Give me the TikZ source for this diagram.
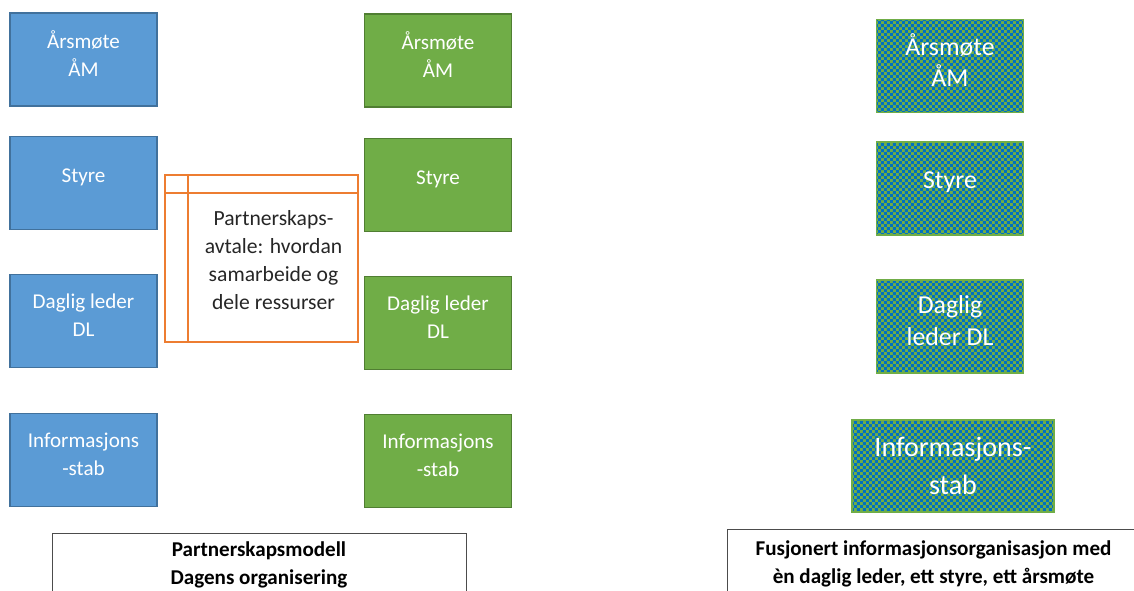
\documentclass[tikz,border=0pt]{standalone}
\usepackage{fontspec}
\setmainfont{Carlito}
\usetikzlibrary{positioning,patterns.meta}

\definecolor{boxblue}{HTML}{5B9BD5}
\definecolor{boxblueline}{HTML}{41719C}
\definecolor{boxgreen}{HTML}{70AD47}
\definecolor{boxgreenline}{HTML}{507E32}
\definecolor{checkblue}{HTML}{0070C0}
\definecolor{avtaleorange}{HTML}{ED7D31}
\definecolor{textdark}{HTML}{262626}

\tikzdeclarepattern{
  name=finecheck,
  type=uncolored,
  bounding box={(0pt,0pt) and (3.4pt,3.4pt)},
  tile size={(3.4pt,3.4pt)},
  code={
    \fill (0pt,0pt) rectangle (1.7pt,1.7pt);
    \fill (1.7pt,1.7pt) rectangle (3.4pt,3.4pt);
  }
}

\begin{document}
\begin{tikzpicture}[
    x=0.02cm, y=-0.02cm,
    orgbox/.style={rectangle, minimum width=2.94cm, minimum height=1.86cm, line width=0.8pt},
    bluebox/.style={orgbox, fill=boxblue, draw=boxblueline},
    greenbox/.style={orgbox, fill=boxgreen, draw=boxgreenline},
    mergedbox/.style={orgbox, draw=boxgreen, preaction={fill=boxgreen}, pattern=finecheck, pattern color=checkblue},
    boxtext/.style={text=white, align=center, font=\fontsize{12}{15.9}\selectfont, yshift=3.4pt},
    mergedtext/.style={text=white, align=center, font=\fontsize{14.7}{18.1}\selectfont, yshift=3.4pt},
    avtale/.style={rectangle, draw=avtaleorange, line width=1.1pt, minimum width=3.86cm, minimum height=3.34cm},
    avtaletext/.style={text=textdark, align=center, font=\fontsize{12.3}{15.9}\selectfont},
    caption/.style={rectangle, draw=black!70, line width=0.5pt, align=center, font=\bfseries\fontsize{12}{15.9}\selectfont, text=black}
]
\useasboundingbox (0,0) rectangle (1134,591);

% partnerskapsmodell, organisasjon 1
\node[bluebox, label={[boxtext]center:{Årsmøte\\ÅM}}] (bam) at (83.5,59.5) {};
\node[bluebox, label={[boxtext]center:Styre}] (bstyre) at (83.5,183) {};
\node[bluebox, label={[boxtext]center:{Daglig leder\\DL}}] (bdl) at (83.5,321) {};
\node[bluebox, label={[boxtext]center:{Informasjons\\-stab}}] (binfo) at (83.5,460) {};

% partnerskapsmodell, organisasjon 2
\node[greenbox, label={[boxtext]center:{Årsmøte\\ÅM}}] (gam) at (438,60.5) {};
\node[greenbox, label={[boxtext]center:Styre}] (gstyre) at (438,185) {};
\node[greenbox, label={[boxtext]center:{Daglig leder\\DL}}] (gdl) at (438,323) {};
\node[greenbox, label={[boxtext]center:{Informasjons\\-stab}}] (ginfo) at (438,461) {};

% avtale mellom dem
\node[avtale] (avtale) at (261.5,258.5) {};
\draw[avtaleorange, line width=1.1pt] ([yshift=-0.38cm]avtale.north west) -- ([yshift=-0.38cm]avtale.north east);
\draw[avtaleorange, line width=1.1pt] ([xshift=0.48cm]avtale.north west) -- ([xshift=0.48cm]avtale.south west);
\node[avtaletext] (avtaletekst) at (273.5,260) {Partnerskaps-\\avtale: hvordan\\samarbeide og\\dele ressurser};

% fusjonert organisasjon
\node[mergedbox, label={[mergedtext]center:{Årsmøte\\ÅM}}] (fam) at (950,66) {};
\node[mergedbox, label={[mergedtext]center:Styre}] (fstyre) at (950,188.5) {};
\node[mergedbox, label={[mergedtext]center:{Daglig\\leder DL}}] (fdl) at (950,326.5) {};
\node[mergedbox, minimum width=4.04cm, minimum height=1.84cm,
      label={[mergedtext, yshift=-3.4pt, font=\fontsize{16}{22}\selectfont]center:{Informasjons-\\stab}}] (finfo) at (953,466) {};

% bildetekster
\node[caption, minimum width=8.28cm, minimum height=1.28cm] (venstre) at (259,565) {Partnerskapsmodell\\Dagens organisering};
\node[caption, minimum width=8.26cm, minimum height=1.40cm] (hoyre) at (933.5,564) {Fusjonert informasjonsorganisasjon med\\èn daglig leder, ett styre, ett årsmøte};
\end{tikzpicture}
\end{document}
